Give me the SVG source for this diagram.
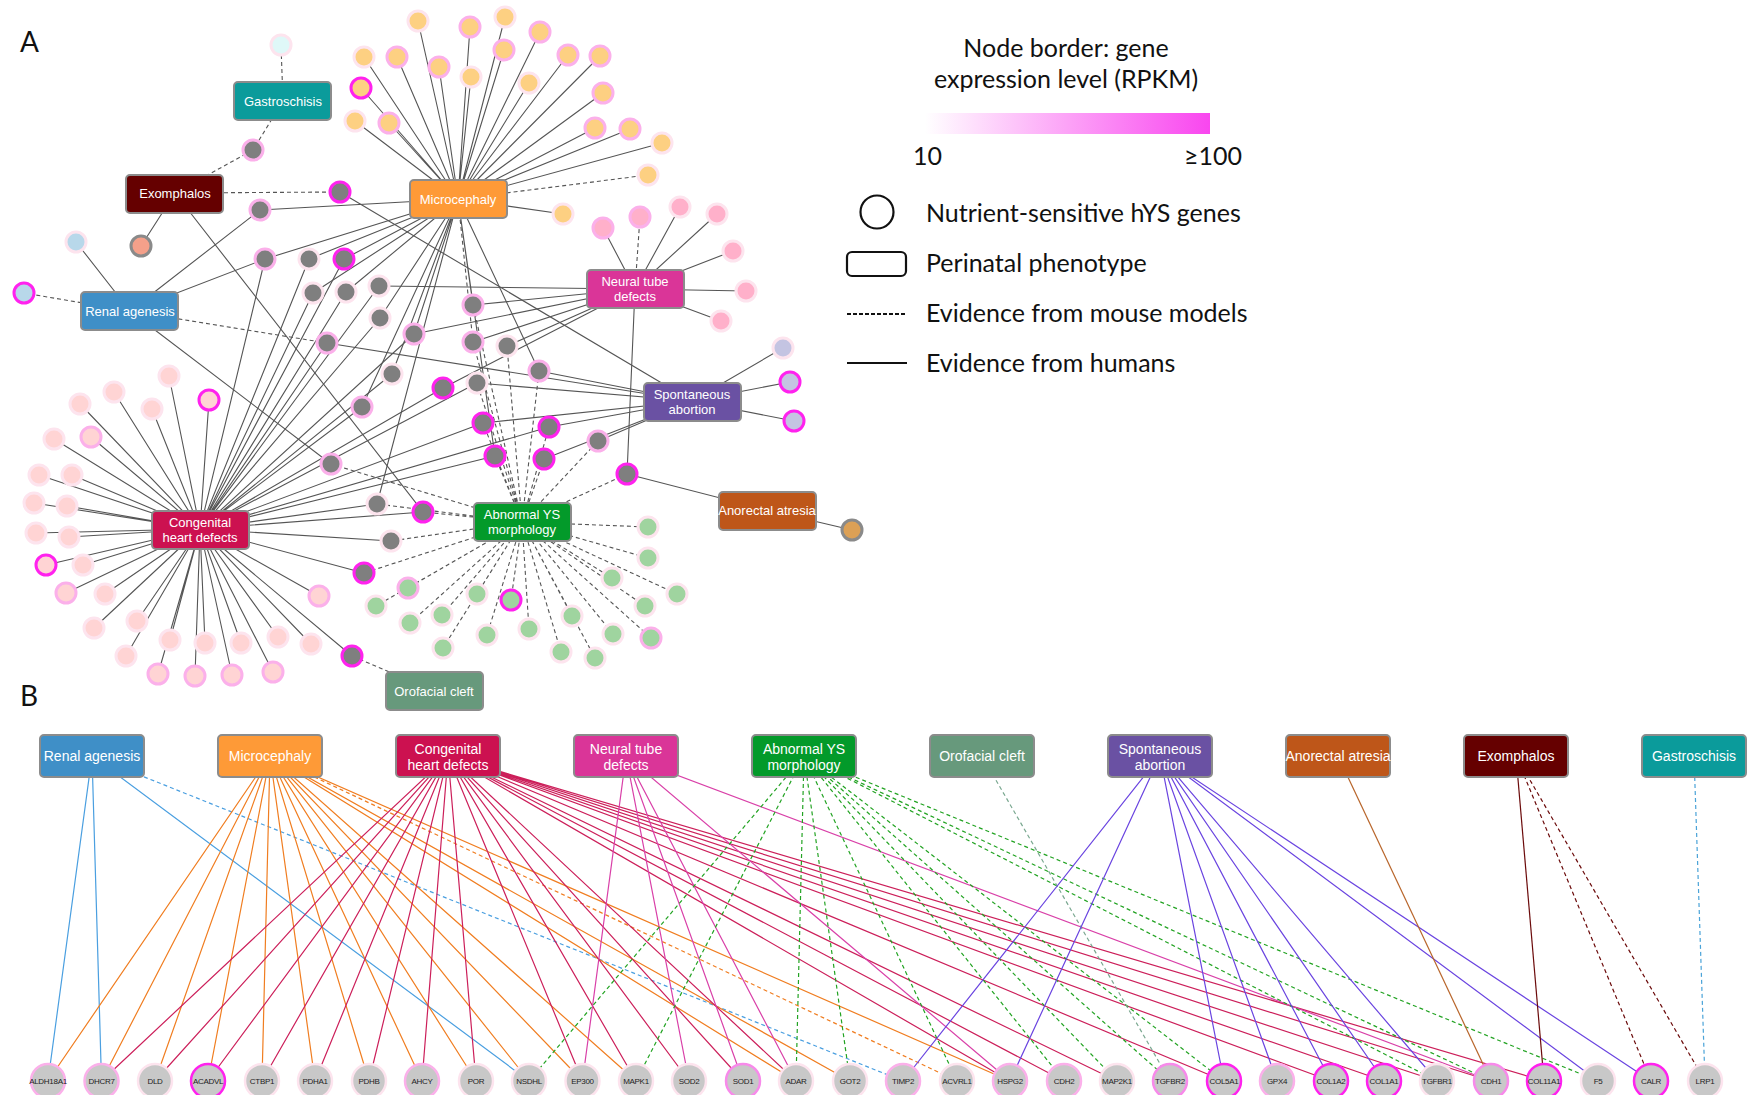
<svg xmlns="http://www.w3.org/2000/svg" width="1750" height="1095" viewBox="0 0 1750 1095">
<defs>
<linearGradient id="grad" x1="0" x2="1" y1="0" y2="0"><stop offset="0" stop-color="#ffffff"/><stop offset="1" stop-color="#f946ef"/></linearGradient>
<style>
text{font-family:"Liberation Sans",Arial,sans-serif}
.lg{font-family:Lato,"Open Sans",sans-serif;font-size:25px;fill:#111}
.pl{font-family:Lato,"Open Sans",sans-serif;font-size:28px;fill:#111}
.bx rect{stroke:#8c8c8c;stroke-width:2}
.bx text{fill:#fff;font-size:13px;text-anchor:middle}
.bb text{font-size:14px}
.e{fill:none;stroke:#555;stroke-width:1.1}
.d{stroke-dasharray:4 3}
.n circle{stroke-width:3}
.pa{stroke:#fde4ee}.pk{stroke:#fbb0ea}.mg{stroke:#ff22ee}.gy{stroke:#8a8a8a}
.or{fill:#fdd082}.ch{fill:#ffd4d4}.nt{fill:#ffb0ca}.gr{fill:#9fd49f}.g{fill:#7f7f7f}
.gn circle{fill:#c8c8c8;stroke-width:2.5}
.gn text{font-size:8px;fill:#222;text-anchor:middle;letter-spacing:-0.3px}
.b{fill:none;stroke-width:1.2}
</style>
</defs>
<rect width="1750" height="1095" fill="#fff"/>
<text class="pl" x="20" y="52">A</text>
<text class="pl" x="20" y="706">B</text>

<g id="connectors-A">
<path class="e" d="M458 199L418 21M458 199L470 27M458 199L505 17M458 199L540 32M458 199L364 57M458 199L397 57M458 199L439 67M458 199L471 77M458 199L504 50M458 199L529 83M458 199L568 55M458 199L600 56M458 199L361 88M458 199L355 121M458 199L389 123M458 199L603 93M458 199L595 128M458 199L630 129M458 199L662 143M458 199L563 214M458 199L260 210M458 199L265 259M458 199L309 259M458 199L344 259M458 199L313 293M458 199L346 292M458 199L380 318M458 199L414 334M458 199L473 305M458 199L539 371M458 199L392 374M458 199L362 407M458 199L495 456M458 199L377 504"/>
<path class="e d" d="M458 199L648 175M458 199L473 342"/>
<path class="e" d="M635 289L603 228M635 289L680 207M635 289L717 214M635 289L733 251M635 289L746 291M635 289L721 321M635 289L379 286M635 289L414 334M635 289L473 305M635 289L473 342M635 289L507 346M635 289L443 388M635 289L627 474"/>
<path class="e d" d="M635 289L640 217"/>
<path class="e" d="M692 401L783 348M692 401L790 382M692 401L794 421M692 401L340 192M692 401L327 343M692 401L539 371M692 401L477 383M692 401L483 423M692 401L549 427M692 401L544 459M692 401L598 441"/>
<path class="e" d="M767 510L852 530M767 510L627 474"/>
<path class="e" d="M200 529L169 376M200 529L114 392M200 529L80 404M200 529L152 409M200 529L209 400M200 529L54 439M200 529L91 437M200 529L39 475M200 529L72 475M200 529L34 503M200 529L67 506M200 529L36 533M200 529L69 537M200 529L46 565M200 529L83 565M200 529L66 593M200 529L105 594M200 529L94 628M200 529L137 621M200 529L126 656M200 529L170 640M200 529L205 643M200 529L241 643M200 529L278 637M200 529L311 644M200 529L158 674M200 529L195 676M200 529L232 675M200 529L273 672M200 529L319 596"/>
<path class="e" d="M200 529L265 259M200 529L309 259M200 529L344 259M200 529L313 293M200 529L346 292M200 529L379 286M200 529L380 318M200 529L414 334M200 529L327 343M200 529L392 374M200 529L477 383M200 529L443 388M200 529L362 407M200 529L483 423M200 529L549 427M200 529L495 456M200 529L377 504M200 529L423 512M200 529L391 541M200 529L364 573M200 529L352 656"/>
<path class="e d" d="M522 522L648 527M522 522L648 558M522 522L612 578M522 522L677 594M522 522L645 606M522 522L613 634M522 522L651 638M522 522L572 616M522 522L561 652M522 522L595 658M522 522L529 629M522 522L487 635M522 522L443 648M522 522L410 623M522 522L442 615M522 522L376 606M522 522L408 588M522 522L477 594M522 522L511 600"/>
<path class="e d" d="M522 522L473 305M522 522L473 342M522 522L507 346M522 522L539 371M522 522L477 383M522 522L483 423M522 522L549 427M522 522L495 456M522 522L544 459M522 522L598 441M522 522L331 464M522 522L627 474M522 522L377 504M522 522L423 512M522 522L391 541M522 522L364 573"/>
<path class="e" d="M130 311L76 242M130 311L260 210M130 311L265 259M130 311L331 464"/>
<path class="e d" d="M130 311L24 293M130 311L327 343"/>
<path class="e" d="M175 193L141 246M175 193L423 512"/>
<path class="e d" d="M175 193L253 150M175 193L340 192M283 101L281 45M283 101L253 150M434 691L352 656"/>
</g>

<g id="genes-A" class="n">
<circle class="or pa" cx="418" cy="21" r="10"/><circle class="or pk" cx="470" cy="27" r="10"/><circle class="or pa" cx="505" cy="17" r="10"/><circle class="or pk" cx="540" cy="32" r="10"/>
<circle class="or pa" cx="364" cy="57" r="10"/><circle class="or pk" cx="397" cy="57" r="10"/><circle class="or pk" cx="439" cy="67" r="10"/><circle class="or pa" cx="471" cy="77" r="10"/>
<circle class="or pk" cx="504" cy="50" r="10"/><circle class="or pa" cx="529" cy="83" r="10"/><circle class="or pk" cx="568" cy="55" r="10"/><circle class="or pk" cx="600" cy="56" r="10"/>
<circle class="or mg" cx="361" cy="88" r="10"/><circle class="or pa" cx="355" cy="121" r="10"/><circle class="or pk" cx="389" cy="123" r="10"/><circle class="or pk" cx="603" cy="93" r="10"/>
<circle class="or pk" cx="595" cy="128" r="10"/><circle class="or pk" cx="630" cy="129" r="10"/><circle class="or pa" cx="662" cy="143" r="10"/><circle class="or pa" cx="648" cy="175" r="10"/><circle class="or pa" cx="563" cy="214" r="10"/>
<circle class="nt pk" cx="603" cy="228" r="10"/><circle class="nt pk" cx="640" cy="217" r="10"/><circle class="nt pa" cx="680" cy="207" r="10"/><circle class="nt pa" cx="717" cy="214" r="10"/>
<circle class="nt pa" cx="733" cy="251" r="10"/><circle class="nt pa" cx="746" cy="291" r="10"/><circle class="nt pa" cx="721" cy="321" r="10"/>
<circle fill="#c4c4e2" class="pa" cx="783" cy="348" r="10"/><circle fill="#c4c4e2" class="mg" cx="790" cy="382" r="10"/><circle fill="#c4c4e2" class="mg" cx="794" cy="421" r="10"/>
<circle fill="#dca055" class="gy" cx="852" cy="530" r="10"/>
<circle fill="#dff8f8" class="pa" cx="281" cy="45" r="10"/>
<circle fill="#f5a08a" class="gy" cx="141" cy="246" r="10"/>
<circle fill="#b8d8ea" class="pa" cx="76" cy="242" r="10"/><circle fill="#b8d8ea" class="mg" cx="24" cy="293" r="10"/>
<circle class="ch pa" cx="169" cy="376" r="10"/><circle class="ch pa" cx="114" cy="392" r="10"/><circle class="ch pa" cx="80" cy="404" r="10"/><circle class="ch pa" cx="152" cy="409" r="10"/>
<circle class="ch mg" cx="209" cy="400" r="10"/><circle class="ch pa" cx="54" cy="439" r="10"/><circle class="ch pk" cx="91" cy="437" r="10"/><circle class="ch pa" cx="39" cy="475" r="10"/>
<circle class="ch pa" cx="72" cy="475" r="10"/><circle class="ch pa" cx="34" cy="503" r="10"/><circle class="ch pa" cx="67" cy="506" r="10"/><circle class="ch pa" cx="36" cy="533" r="10"/>
<circle class="ch pa" cx="69" cy="537" r="10"/><circle class="ch mg" cx="46" cy="565" r="10"/><circle class="ch pa" cx="83" cy="565" r="10"/><circle class="ch pk" cx="66" cy="593" r="10"/>
<circle class="ch pa" cx="105" cy="594" r="10"/><circle class="ch pa" cx="94" cy="628" r="10"/><circle class="ch pa" cx="137" cy="621" r="10"/><circle class="ch pa" cx="126" cy="656" r="10"/>
<circle class="ch pa" cx="170" cy="640" r="10"/><circle class="ch pa" cx="205" cy="643" r="10"/><circle class="ch pa" cx="241" cy="643" r="10"/><circle class="ch pa" cx="278" cy="637" r="10"/>
<circle class="ch pa" cx="311" cy="644" r="10"/><circle class="ch pk" cx="158" cy="674" r="10"/><circle class="ch pk" cx="195" cy="676" r="10"/><circle class="ch pk" cx="232" cy="675" r="10"/>
<circle class="ch pk" cx="273" cy="672" r="10"/><circle class="ch pk" cx="319" cy="596" r="10"/>
<circle class="gr pa" cx="648" cy="527" r="10"/><circle class="gr pa" cx="648" cy="558" r="10"/><circle class="gr pa" cx="612" cy="578" r="10"/><circle class="gr pa" cx="677" cy="594" r="10"/>
<circle class="gr pa" cx="645" cy="606" r="10"/><circle class="gr pa" cx="613" cy="634" r="10"/><circle class="gr pk" cx="651" cy="638" r="10"/><circle class="gr pa" cx="572" cy="616" r="10"/>
<circle class="gr pa" cx="561" cy="652" r="10"/><circle class="gr pa" cx="595" cy="658" r="10"/><circle class="gr pa" cx="529" cy="629" r="10"/><circle class="gr pa" cx="487" cy="635" r="10"/>
<circle class="gr pa" cx="443" cy="648" r="10"/><circle class="gr pa" cx="410" cy="623" r="10"/><circle class="gr pa" cx="442" cy="615" r="10"/><circle class="gr pa" cx="376" cy="606" r="10"/>
<circle class="gr pk" cx="408" cy="588" r="10"/><circle class="gr pa" cx="477" cy="594" r="10"/><circle class="gr mg" cx="511" cy="600" r="10"/>
<circle class="g pk" cx="253" cy="150" r="10"/><circle class="g mg" cx="340" cy="192" r="10"/><circle class="g pk" cx="260" cy="210" r="10"/><circle class="g pk" cx="265" cy="259" r="10"/>
<circle class="g pa" cx="309" cy="259" r="10"/><circle class="g mg" cx="344" cy="259" r="10"/><circle class="g pa" cx="313" cy="293" r="10"/><circle class="g pa" cx="346" cy="292" r="10"/>
<circle class="g pa" cx="379" cy="286" r="10"/><circle class="g pa" cx="380" cy="318" r="10"/><circle class="g pk" cx="414" cy="334" r="10"/><circle class="g pk" cx="327" cy="343" r="10"/>
<circle class="g pk" cx="473" cy="305" r="10"/><circle class="g pk" cx="473" cy="342" r="10"/><circle class="g pa" cx="507" cy="346" r="10"/><circle class="g pk" cx="539" cy="371" r="10"/>
<circle class="g pa" cx="392" cy="374" r="10"/><circle class="g pa" cx="477" cy="383" r="10"/><circle class="g mg" cx="443" cy="388" r="10"/><circle class="g pk" cx="362" cy="407" r="10"/>
<circle class="g mg" cx="483" cy="423" r="10"/><circle class="g mg" cx="549" cy="427" r="10"/><circle class="g mg" cx="495" cy="456" r="10"/><circle class="g mg" cx="544" cy="459" r="10"/>
<circle class="g pk" cx="598" cy="441" r="10"/><circle class="g pk" cx="331" cy="464" r="10"/><circle class="g mg" cx="627" cy="474" r="10"/><circle class="g pa" cx="377" cy="504" r="10"/>
<circle class="g mg" cx="423" cy="512" r="10"/><circle class="g pa" cx="391" cy="541" r="10"/><circle class="g mg" cx="364" cy="573" r="10"/><circle class="g mg" cx="352" cy="656" r="10"/>
</g>

<g class="bx">
<g id="A-gastroschisis"><rect x="234" y="82" width="97" height="38" rx="4" fill="#0b9b9b"/><text x="283" y="106">Gastroschisis</text></g>
<g id="A-exomphalos"><rect x="126" y="175" width="97" height="38" rx="4" fill="#650000"/><text x="175" y="198">Exomphalos</text></g>
<g id="A-microcephaly"><rect x="410" y="180" width="97" height="38" rx="4" fill="#fe9a37"/><text x="458" y="204">Microcephaly</text></g>
<g id="A-renal"><rect x="81" y="292" width="97" height="38" rx="4" fill="#3f8fc7"/><text x="130" y="316">Renal agenesis</text></g>
<g id="A-ntd"><rect x="587" y="270" width="97" height="38" rx="4" fill="#da3598"/><text x="635" y="286">Neural tube</text><text x="635" y="301">defects</text></g>
<g id="A-sa"><rect x="644" y="383" width="97" height="38" rx="4" fill="#6a51a3"/><text x="692" y="399">Spontaneous</text><text x="692" y="414">abortion</text></g>
<g id="A-anorectal"><rect x="719" y="492" width="97" height="38" rx="4" fill="#be5619"/><text x="767" y="515">Anorectal atresia</text></g>
<g id="A-chd"><rect x="152" y="511" width="97" height="38" rx="4" fill="#cc1150"/><text x="200" y="527">Congenital</text><text x="200" y="542">heart defects</text></g>
<g id="A-ys"><rect x="474" y="503" width="97" height="38" rx="4" fill="#039a2a"/><text x="522" y="519">Abnormal YS</text><text x="522" y="534">morphology</text></g>
<g id="A-orofacial"><rect x="386" y="672" width="97" height="38" rx="4" fill="#67997c"/><text x="434" y="696">Orofacial cleft</text></g>
</g>

<g id="legend">
<text class="lg" x="1066" y="57" text-anchor="middle">Node border: gene</text>
<text class="lg" x="1066" y="88" text-anchor="middle">expression level (RPKM)</text>
<rect x="925" y="113" width="285" height="21" fill="url(#grad)"/>
<text class="lg" x="913" y="165" font-size="23">10</text>
<text class="lg" x="1184" y="165" font-size="23">≥100</text>
<circle cx="877" cy="212" r="16.5" fill="none" stroke="#111" stroke-width="2.2"/>
<text class="lg" x="926" y="222">Nutrient-sensitive hYS genes</text>
<rect x="847" y="252" width="59" height="24" rx="5" fill="none" stroke="#111" stroke-width="2.2"/>
<text class="lg" x="926" y="272">Perinatal phenotype</text>
<line x1="847" y1="314" x2="907" y2="314" stroke="#111" stroke-width="1.8" stroke-dasharray="4 2"/>
<text class="lg" x="926" y="322">Evidence from mouse models</text>
<line x1="847" y1="363" x2="907" y2="363" stroke="#111" stroke-width="2"/>
<text class="lg" x="926" y="372">Evidence from humans</text>
</g>

<g id="connectors-B">
<path class="b" stroke="#4a9fe0" d="M92 756L48 1081M92 756L101.5 1081M92 756L529 1081"/>
<path class="b d" stroke="#4a9fe0" d="M92 756L903 1081"/>
<path class="b" stroke="#f07d20" d="M270 756L48 1081M270 756L101.5 1081M270 756L155 1081M270 756L208 1081M270 756L262 1081M270 756L315 1081M270 756L369 1081M270 756L422 1081M270 756L476 1081M270 756L529 1081M270 756L582.5 1081M270 756L636 1081M270 756L796 1081M270 756L850 1081M270 756L1010 1081"/>
<path class="b d" stroke="#f07d20" d="M270 756L957 1081"/>
<path class="b" stroke="#cc1f5a" d="M448 756L101.5 1081M448 756L155 1081M448 756L208 1081M448 756L262 1081M448 756L315 1081M448 756L369 1081M448 756L422 1081M448 756L476 1081M448 756L582.5 1081M448 756L636 1081M448 756L689 1081M448 756L743 1081M448 756L796 1081M448 756L1010 1081M448 756L1064 1081M448 756L1117 1081M448 756L1224 1081M448 756L1331 1081M448 756L1384 1081M448 756L1437 1081M448 756L1491 1081M448 756L1544 1081"/>
<path class="b" stroke="#d940a8" d="M626 756L582.5 1081M626 756L689 1081M626 756L743 1081M626 756L796 1081M626 756L1010 1081M626 756L1491 1081"/>
<path class="b d" stroke="#22a322" d="M804 756L529 1081M804 756L636 1081M804 756L796 1081M804 756L850 1081M804 756L957 1081M804 756L1064 1081M804 756L1117 1081M804 756L1170 1081M804 756L1224 1081M804 756L1437 1081M804 756L1491 1081M804 756L1598 1081"/>
<path class="b d" stroke="#7aa890" d="M982 756L1170 1081"/>
<path class="b" stroke="#6a44e0" d="M1160 756L903 1081M1160 756L1010 1081M1160 756L1224 1081M1160 756L1277 1081M1160 756L1331 1081M1160 756L1384 1081M1160 756L1437 1081M1160 756L1598 1081M1160 756L1651 1081"/>
<path class="b" stroke="#b8652a" d="M1338 756L1491 1081"/>
<path class="b" stroke="#6b0a0a" d="M1516 756L1544 1081"/>
<path class="b d" stroke="#6b0a0a" d="M1516 756L1651 1081M1516 756L1705 1081"/>
<path class="b d" stroke="#4aa3d8" d="M1694 756L1705 1081"/>
</g>

<g class="bx bb">
<g id="B-renal"><rect x="40" y="735" width="104" height="42" rx="4" fill="#3f8fc7"/><text x="92" y="761">Renal agenesis</text></g>
<g id="B-microcephaly"><rect x="218" y="735" width="104" height="42" rx="4" fill="#fe9a37"/><text x="270" y="761">Microcephaly</text></g>
<g id="B-chd"><rect x="396" y="735" width="104" height="42" rx="4" fill="#cc1150"/><text x="448" y="754">Congenital</text><text x="448" y="770">heart defects</text></g>
<g id="B-ntd"><rect x="574" y="735" width="104" height="42" rx="4" fill="#da3598"/><text x="626" y="754">Neural tube</text><text x="626" y="770">defects</text></g>
<g id="B-ys"><rect x="752" y="735" width="104" height="42" rx="4" fill="#039a2a"/><text x="804" y="754">Abnormal YS</text><text x="804" y="770">morphology</text></g>
<g id="B-orofacial"><rect x="930" y="735" width="104" height="42" rx="4" fill="#67997c"/><text x="982" y="761">Orofacial cleft</text></g>
<g id="B-sa"><rect x="1108" y="735" width="104" height="42" rx="4" fill="#6a51a3"/><text x="1160" y="754">Spontaneous</text><text x="1160" y="770">abortion</text></g>
<g id="B-anorectal"><rect x="1286" y="735" width="104" height="42" rx="4" fill="#be5619"/><text x="1338" y="761">Anorectal atresia</text></g>
<g id="B-exomphalos"><rect x="1464" y="735" width="104" height="42" rx="4" fill="#650000"/><text x="1516" y="761">Exomphalos</text></g>
<g id="B-gastroschisis"><rect x="1642" y="735" width="104" height="42" rx="4" fill="#0b9b9b"/><text x="1694" y="761">Gastroschisis</text></g>
</g>

<g class="gn">
<g id="g-ALDH18A1"><circle class="pk" cx="48" cy="1081" r="17"/><text x="48" y="1084">ALDH18A1</text></g>
<g id="g-DHCR7"><circle class="pk" cx="101.5" cy="1081" r="17"/><text x="101.5" y="1084">DHCR7</text></g>
<g id="g-DLD"><circle class="pa" cx="155" cy="1081" r="17"/><text x="155" y="1084">DLD</text></g>
<g id="g-ACADVL"><circle class="mg" cx="208" cy="1081" r="17"/><text x="208" y="1084">ACADVL</text></g>
<g id="g-CTBP1"><circle class="pa" cx="262" cy="1081" r="17"/><text x="262" y="1084">CTBP1</text></g>
<g id="g-PDHA1"><circle class="pa" cx="315" cy="1081" r="17"/><text x="315" y="1084">PDHA1</text></g>
<g id="g-PDHB"><circle class="pa" cx="369" cy="1081" r="17"/><text x="369" y="1084">PDHB</text></g>
<g id="g-AHCY"><circle class="pk" cx="422" cy="1081" r="17"/><text x="422" y="1084">AHCY</text></g>
<g id="g-POR"><circle class="pa" cx="476" cy="1081" r="17"/><text x="476" y="1084">POR</text></g>
<g id="g-NSDHL"><circle class="pa" cx="529" cy="1081" r="17"/><text x="529" y="1084">NSDHL</text></g>
<g id="g-EP300"><circle class="pa" cx="582.5" cy="1081" r="17"/><text x="582.5" y="1084">EP300</text></g>
<g id="g-MAPK1"><circle class="pa" cx="636" cy="1081" r="17"/><text x="636" y="1084">MAPK1</text></g>
<g id="g-SOD2"><circle class="pa" cx="689" cy="1081" r="17"/><text x="689" y="1084">SOD2</text></g>
<g id="g-SOD1"><circle stroke="#f78aea" cx="743" cy="1081" r="17"/><text x="743" y="1084">SOD1</text></g>
<g id="g-ADAR"><circle class="pa" cx="796" cy="1081" r="17"/><text x="796" y="1084">ADAR</text></g>
<g id="g-GOT2"><circle class="pa" cx="850" cy="1081" r="17"/><text x="850" y="1084">GOT2</text></g>
<g id="g-TIMP2"><circle class="pk" cx="903" cy="1081" r="17"/><text x="903" y="1084">TIMP2</text></g>
<g id="g-ACVRL1"><circle class="pa" cx="957" cy="1081" r="17"/><text x="957" y="1084">ACVRL1</text></g>
<g id="g-HSPG2"><circle class="pk" cx="1010" cy="1081" r="17"/><text x="1010" y="1084">HSPG2</text></g>
<g id="g-CDH2"><circle class="pk" cx="1064" cy="1081" r="17"/><text x="1064" y="1084">CDH2</text></g>
<g id="g-MAP2K1"><circle class="pa" cx="1117" cy="1081" r="17"/><text x="1117" y="1084">MAP2K1</text></g>
<g id="g-TGFBR2"><circle stroke="#f78aea" cx="1170" cy="1081" r="17"/><text x="1170" y="1084">TGFBR2</text></g>
<g id="g-COL5A1"><circle class="mg" cx="1224" cy="1081" r="17"/><text x="1224" y="1084">COL5A1</text></g>
<g id="g-GPX4"><circle class="pk" cx="1277" cy="1081" r="17"/><text x="1277" y="1084">GPX4</text></g>
<g id="g-COL1A2"><circle class="mg" cx="1331" cy="1081" r="17"/><text x="1331" y="1084">COL1A2</text></g>
<g id="g-COL1A1"><circle class="mg" cx="1384" cy="1081" r="17"/><text x="1384" y="1084">COL1A1</text></g>
<g id="g-TGFBR1"><circle class="pa" cx="1437" cy="1081" r="17"/><text x="1437" y="1084">TGFBR1</text></g>
<g id="g-CDH1"><circle stroke="#f78aea" cx="1491" cy="1081" r="17"/><text x="1491" y="1084">CDH1</text></g>
<g id="g-COL11A1"><circle class="mg" cx="1544" cy="1081" r="17"/><text x="1544" y="1084">COL11A1</text></g>
<g id="g-F5"><circle class="pa" cx="1598" cy="1081" r="17"/><text x="1598" y="1084">F5</text></g>
<g id="g-CALR"><circle class="mg" cx="1651" cy="1081" r="17"/><text x="1651" y="1084">CALR</text></g>
<g id="g-LRP1"><circle class="pa" cx="1705" cy="1081" r="17"/><text x="1705" y="1084">LRP1</text></g>
</g>
</svg>
